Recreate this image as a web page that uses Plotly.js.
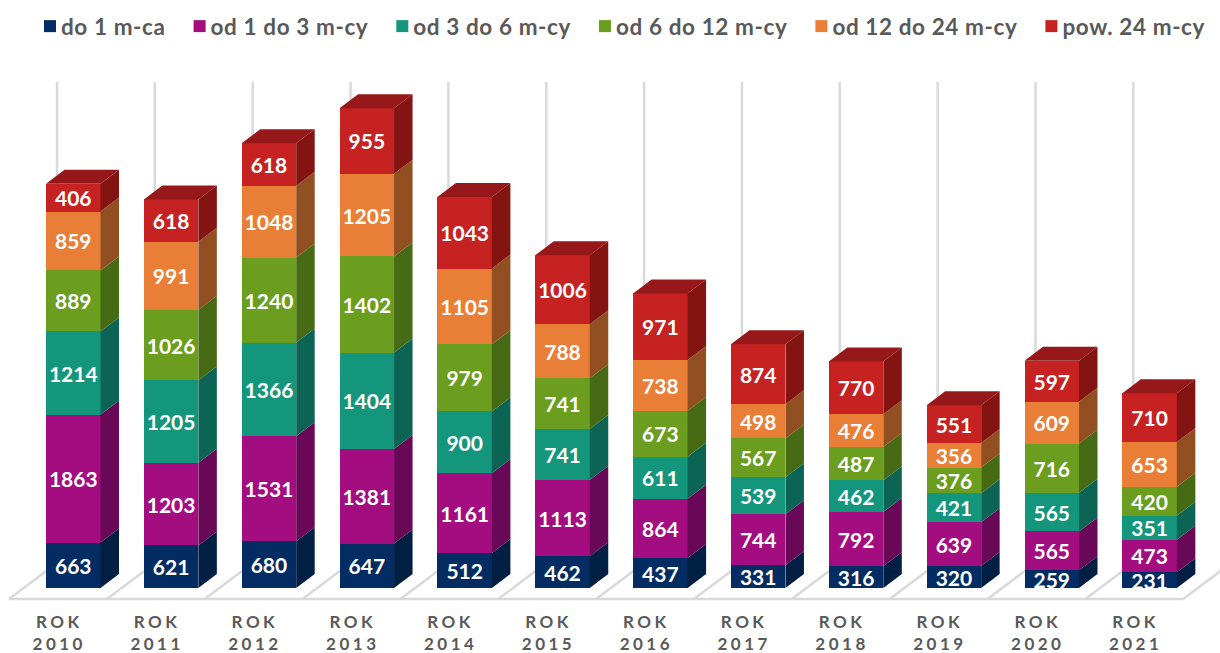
<!DOCTYPE html>
<html><head><meta charset="utf-8">
<script src="https://cdn.plot.ly/plotly-3.0.1.min.js"></script>
<style>
html,body{margin:0;padding:0;background:#fff;overflow:hidden}
.xtick text{letter-spacing:3.5px}
.legendtext{letter-spacing:.6px;transform:translateX(-9px)}
</style></head><body>
<div id="chart" style="width:1220px;height:653px"></div>
<script>
const years = [2010,2011,2012,2013,2014,2015,2016,2017,2018,2019,2020,2021];
const names = ['do 1 m-ca','od 1 do 3 m-cy','od 3 do 6 m-cy','od 6 do 12 m-cy','od 12 do 24 m-cy','pow. 24 m-cy'];
const do1 = [663,621,680,647,512,462,437,331,316,320,259,231];
const od1do3 = [1863,1203,1531,1381,1161,1113,864,744,792,639,565,473];
const od3do6 = [1214,1205,1366,1404,900,741,611,539,462,421,565,351];
const od6do12 = [889,1026,1240,1402,979,741,673,567,487,376,716,420];
const od12do24 = [859,991,1048,1205,1105,788,738,498,476,356,609,653];
const pow24 = [406,618,618,955,1043,1006,971,874,770,551,597,710];
const seriesValues = [do1,od1do3,od3do6,od6do12,od12do24,pow24];
const frontColors = ['#032d62','#a30d80','#13967c','#6b9d1f','#e97e36','#c62222'];
const sideColors = ['#011f43','#6a0858','#0c6554','#476b15','#925022','#841412'];
const capColor = '#96181a';

const W=1220,H=653,B=48, pxPerCat=97.85, pxPerVal=0.0686, x0=73.25, base=588;
const barW=54.5/pxPerCat, dx=18.5/pxPerCat, dy=14/pxPerVal;
const idx=years.map((_,i)=>i);
const xr=[(0-x0)/pxPerCat,(W-x0)/pxPerCat];
const yr=[(base-(H-B))/pxPerVal,base/pxPerVal];

const traces=[];
seriesValues.forEach((vals,s)=>{
  traces.push({type:'bar',name:names[s],x:idx,y:vals,width:barW,
    marker:{color:frontColors[s],line:{width:0}},
    text:vals.map(String),textposition:'inside',insidetextanchor:'middle',textangle:0,constraintext:'none',
    insidetextfont:{family:'Lato',size:21,weight:700,color:'#fff'},
    hoverinfo:'name+y'});
});
const bottom=idx.map(()=>0);
seriesValues.forEach((vals,s)=>{
  const px=[],py=[];
  idx.forEach(i=>{
    const r=i+barW/2,b=bottom[i],t=b+vals[i];
    px.push(r,r+dx,r+dx,r,r,null);
    py.push(b,b+dy,t+dy,t,b,null);
    bottom[i]=t;
  });
  traces.push({type:'scatter',mode:'lines',x:px,y:py,fill:'toself',fillcolor:sideColors[s],
    line:{width:0,color:sideColors[s]},showlegend:false,hoverinfo:'skip'});
});
const cx=[],cy=[];
idx.forEach(i=>{
  const l=i-barW/2,r=i+barW/2,t=bottom[i];
  cx.push(l,l+dx,r+dx,r,l,null);
  cy.push(t,t+dy,t+dy,t,t,null);
});
traces.push({type:'scatter',mode:'lines',x:cx,y:cy,fill:'toself',fillcolor:capColor,
  line:{width:0,color:capColor},showlegend:false,hoverinfo:'skip'});

const gridColor='#d9d9d9';
const backOff=-16.25/pxPerCat, frontOff=-64.25/pxPerCat;
const yFront=(base-599)/pxPerVal, yBack=(base-563)/pxPerVal, yTop=(base-82)/pxPerVal;
const shapes=[];
const ln=(x1,y1,x2,y2)=>({type:'line',xref:'x',yref:'y',x0:x1,y0:y1,x1:x2,y1:y2,layer:'below',line:{color:gridColor,width:2.5}});
shapes.push(ln(frontOff,yFront,frontOff+years.length,yFront));
idx.concat([years.length]).forEach(i=>{
  shapes.push(ln(i+frontOff,yFront,i+backOff,yBack));
  shapes.push(ln(i+backOff,yBack,i+backOff,yTop));
});

const layout={width:W,height:H,margin:{l:0,r:0,t:0,b:B,pad:0},paper_bgcolor:'#fff',plot_bgcolor:'#fff',
  barmode:'stack',showlegend:true,shapes,
  font:{family:'Lato',color:'#595959'},
  legend:{orientation:'h',x:0.0268,y:1-5/(H-B),xanchor:'left',yanchor:'top',traceorder:'normal',
    font:{family:'Lato',size:22.5,weight:700,color:'#595959'},bgcolor:'rgba(0,0,0,0)'},
  xaxis:{range:xr,type:'linear',showgrid:false,zeroline:false,showline:false,ticks:'',
    tickmode:'array',tickvals:idx.map(i=>i-14/pxPerCat),ticktext:years.map(y=>'ROK<br>'+y),
    tickangle:0,tickfont:{family:'Lato',size:17,weight:700,color:'#595959'},ticklabelstandoff:5},
  yaxis:{range:yr,visible:false,showgrid:false,zeroline:false}
};
Plotly.newPlot('chart',traces,layout,{displayModeBar:false,staticPlot:false});
</script></body></html>
